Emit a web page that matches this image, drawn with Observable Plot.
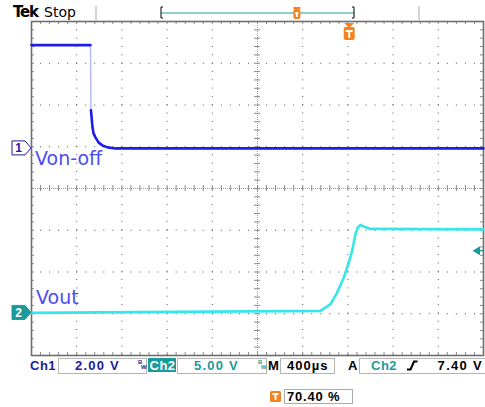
<!DOCTYPE html>
<html><head><meta charset="utf-8">
<script src="https://cdn.jsdelivr.net/npm/d3@7"></script>
<script src="https://cdn.jsdelivr.net/npm/@observablehq/plot@0.6"></script>
<style>
body{margin:0;background:#fff;}
#wrap{position:relative;width:485px;height:407px;overflow:hidden;}
</style></head><body><div id="wrap"></div>
<script>
// ---- scope settings ----
const timePerDiv = 400;            // µs / div
const triggerPct = 70.40;          // trigger position %
const triggerLevel = 7.40;         // V (Ch2)
const channelNames = ["Ch1", "Ch2"];
const voltsPerDiv = [2, 5];
const groundDiv = [0.96, -2.98];   // ground marker position in divisions
const traceLabels = ["Von-off", "Vout"];

// ---- Ch1 (Von-off) samples: time µs, volts ----
const ch1Time  = [-2816, -2294, -2290, -2276, -2267, -2250, -2223, -2188, -2143, -2073, 1184];
const ch1Volts = [4.95, 4.95, 1.83, 1.01, 0.72, 0.53, 0.29, 0.14, 0.05, 0, 0];

// ---- Ch2 (Vout) samples ----
const ch2Time  = [-2816, -258, -170, -111, -52, -8, 22, 51, 72, 96, 140, 184, 1184];
const ch2Volts = [0, 0.24, 1.05, 2.44, 4.24, 6.04, 7.45, 9.46, 10.25, 10.54, 10.25, 10.06, 10.0];

const tStart = -triggerPct / 100 * 10 * timePerDiv;
const tEnd = tStart + 10 * timePerDiv;
const tCenter = tStart + 5 * timePerDiv;

const ch1 = ch1Time.map((t, i) => ({t, div: ch1Volts[i] / voltsPerDiv[0] + groundDiv[0], part: i <= 1 ? "a" : "b"}));
const ch2 = ch2Time.map((t, i) => ({t, div: ch2Volts[i] / voltsPerDiv[1] + groundDiv[1]}));

const majorX = d3.range(11).map(i => tStart + i * timePerDiv);
const minorX = d3.range(51).map(i => tStart + i * timePerDiv / 5);
const majorY = d3.range(-4, 5);
const minorY = d3.range(41).map(i => -4 + i * 0.2);
const innerX = majorX.filter((d, i) => i > 0 && i < 10 && i !== 5);
const innerY = majorY.filter(d => d !== -4 && d !== 4 && d !== 0);
const pxT = timePerDiv * 10 / 452; // µs per pixel

const grid = "#555";
const tick = "#8a8a8a";

const plot = Plot.plot({
  width: 485, height: 407,
  marginTop: 21, marginLeft: 31, marginRight: 2, marginBottom: 52,
  x: {domain: [tStart, tEnd], axis: null},
  y: {domain: [-4, 4], axis: null},
  style: {background: "white", overflow: "visible"},
  marks: [
    Plot.ruleY(innerY, {stroke: grid, strokeDasharray: "1,8.04"}),
    Plot.ruleX(innerX, {stroke: grid, strokeDasharray: "1,7.325"}),
    // edge ticks
    Plot.ruleX(minorX, {y1: 4, y2: 4 - 3 / 41.6, stroke: tick}),
    Plot.ruleX(minorX, {y1: -4, y2: -4 + 3 / 41.6, stroke: tick}),
    Plot.ruleY(minorY, {x1: tStart, x2: tStart + 3 * pxT, stroke: tick}),
    Plot.ruleY(minorY, {x1: tEnd, x2: tEnd - 3 * pxT, stroke: tick}),
    // center crosshair
    Plot.ruleX([tCenter], {stroke: "#999", strokeDasharray: "1,1"}),
    Plot.ruleY([0], {stroke: "#999", strokeDasharray: "1,1"}),
    Plot.ruleY(minorY, {x1: tCenter - 3 * pxT, x2: tCenter + 3 * pxT, stroke: tick}),
    Plot.ruleX(minorX, {y1: -3 / 41.6, y2: 3 / 41.6, stroke: tick}),
    Plot.frame({stroke: "#6e6e6e", strokeWidth: 1.6}),
    // traces
    Plot.line(ch1, {x: "t", y: "div", stroke: "#b9b9ff", strokeWidth: 1.5}),
    Plot.line(ch1, {x: "t", y: "div", z: "part", stroke: "#1e1ee6", strokeWidth: 2.6}),
    Plot.line(ch2, {x: "t", y: "div", stroke: "#35e6ea", strokeWidth: 2.6})
  ]
});
document.getElementById("wrap").appendChild(plot);

const X = plot.scale("x").apply, Y = plot.scale("y").apply;
const svg = d3.select(plot);
const navy = "#1c1c9e", teal = "#1a9a9a", orange = "#f5821f", labelBlue = "#4d4df2";
const sans = "'Liberation Sans', Arial, sans-serif";

function txt(x, y, s, o = {}) {
  return svg.append("text").attr("x", x).attr("y", y).text(s)
    .attr("font-family", o.font || sans).attr("font-size", o.size || 13)
    .attr("font-weight", o.weight || "bold").attr("fill", o.fill || "#000")
    .attr("letter-spacing", o.ls ?? 1).attr("text-anchor", o.anchor || "start");
}

// trace labels
txt(35, Y(groundDiv[0]) + 17, traceLabels[0], {font: "'DejaVu Sans', sans-serif", size: 19, weight: "normal", fill: labelBlue, ls: 0});
txt(36, Y(groundDiv[1]) - 8, traceLabels[1], {font: "'DejaVu Sans', sans-serif", size: 19, weight: "normal", fill: labelBlue, ls: 0});

// ground markers
function marker(yc, n, fill, stroke, textFill) {
  svg.append("path").attr("d", `M12,${yc - 7}H25L31,${yc}L25,${yc + 7}H12Z`)
    .attr("fill", fill).attr("stroke", stroke).attr("stroke-width", 1);
  txt(18.5, yc + 4.5, n, {size: 12, fill: textFill, ls: 0, anchor: "middle"});
}
marker(Y(groundDiv[0]), "1", "#fff", navy, navy);
marker(Y(groundDiv[1]), "2", teal, teal, "#fff");

// trigger level arrow (Ch2)
const yt = Y(triggerLevel / voltsPerDiv[1] + groundDiv[1]);
svg.append("path").attr("d", `M472.5,${yt}L480,${yt - 4.5}V${yt + 4.5}Z`).attr("fill", teal);
svg.append("line").attr("x1", 479).attr("x2", 484).attr("y1", yt).attr("y2", yt).attr("stroke", teal).attr("stroke-width", 1.5);

// trigger position marker
function tMarker(xc, top, w, h) {
  svg.append("rect").attr("x", xc - w / 2).attr("y", top).attr("width", w).attr("height", h).attr("rx", 2).attr("fill", orange);
  svg.append("rect").attr("x", xc - 1).attr("y", top + 3).attr("width", 2).attr("height", h - 5).attr("fill", "#fff");
  svg.append("rect").attr("x", xc - w / 2 + 2).attr("y", top + 3).attr("width", w - 4).attr("height", 2).attr("fill", "#fff");
}
const xTrig = X(0);
svg.append("path").attr("d", `M${xTrig - 5},23H${xTrig + 5}L${xTrig},28Z`).attr("fill", orange);
tMarker(xTrig, 27, 11, 13);

// header
txt(13, 17, "Tek", {size: 15, weight: "bold", ls: -1.2, font: "'DejaVu Sans', sans-serif"});
txt(44, 17, "Stop", {size: 14, weight: "normal", ls: 0, font: "'DejaVu Sans', sans-serif"});
[96, 419].forEach(x => svg.append("line").attr("x1", x).attr("x2", x).attr("y1", 6).attr("y2", 20).attr("stroke", "#aaa"));
svg.append("line").attr("x1", 161).attr("x2", 354).attr("y1", 13).attr("y2", 13).attr("stroke", "#8ccfcf").attr("stroke-width", 2.2);
svg.append("path").attr("d", "M163,7H161V18H163M352,7H354V18H352").attr("fill", "none").attr("stroke", "#000").attr("stroke-width", 1);
const xBar = 161 + triggerPct / 100 * (354 - 161);
svg.append("rect").attr("x", xBar - 3.5).attr("y", 7).attr("width", 7).attr("height", 2).attr("fill", orange);
tMarker(xBar, 9, 7, 10);

// status bar
function box(x, y, w, h, fill = "#fff", stroke = "#b5b5b5") {
  svg.append("rect").attr("x", x + 0.5).attr("y", y + 0.5).attr("width", w).attr("height", h).attr("fill", fill).attr("stroke", stroke);
}
box(58, 358, 88, 15);
box(177, 358, 89, 15);
box(280, 358, 54, 15);
box(359, 358, 126, 15);
svg.append("rect").attr("x", 148).attr("y", 358).attr("width", 28).attr("height", 14).attr("fill", teal);

txt(30, 370, channelNames[0], {fill: navy, ls: 0.5});
txt(75, 370, `${voltsPerDiv[0].toFixed(2)} V`, {fill: navy, ls: 1.2});
txt(138, 364, "B", {size: 6, fill: navy, ls: 0});
txt(141, 369, "W", {size: 6, fill: navy, ls: 0});
txt(149.5, 370, channelNames[1], {fill: "#fff", ls: 0.5});
txt(194, 370, `${voltsPerDiv[1].toFixed(2)} V`, {fill: teal, ls: 1.2});
txt(258, 364, "B", {size: 6, fill: teal, ls: 0});
txt(261, 369, "W", {size: 6, fill: teal, ls: 0});
txt(268, 370, "M", {ls: 0});
txt(287, 370, `${timePerDiv}µs`, {ls: 1});
txt(348, 370, "A", {ls: 0});
txt(371, 370, channelNames[1], {fill: teal, ls: 0.5});
svg.append("path").attr("d", "M407,369.5H410.5L414,361.5H417.5").attr("fill", "none").attr("stroke", "#000").attr("stroke-width", 2);
txt(483, 370, `${triggerLevel.toFixed(2)} V`, {ls: 1.3, anchor: "end"});

// trigger percentage
svg.append("rect").attr("x", 270).attr("y", 391).attr("width", 11).attr("height", 11).attr("rx", 1.5).attr("fill", orange);
svg.append("rect").attr("x", 272.5).attr("y", 393).attr("width", 6).attr("height", 2).attr("fill", "#fff");
svg.append("rect").attr("x", 274.5).attr("y", 393).attr("width", 2).attr("height", 7).attr("fill", "#fff");
box(284, 389, 68, 14, "#fff", "#aaa");
txt(287, 401, `${triggerPct.toFixed(2)} %`, {ls: 0.8});
</script></body></html>
